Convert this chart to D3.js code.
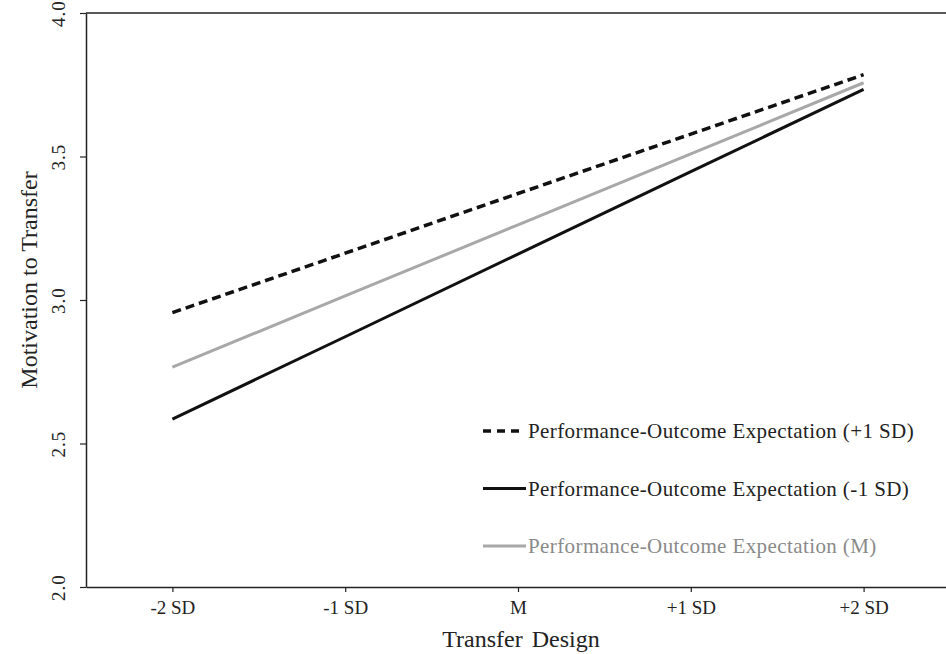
<!DOCTYPE html>
<html lang="en">
  <head>
    <meta charset="UTF-8" />
    <title>Motivation to Transfer</title>
    <script src="https://d3js.org/d3.v7.min.js"></script>
    <style>
      body { margin: 0; background: #fff; }
      svg text { font-family: "Liberation Serif", "Times New Roman", "DejaVu Serif", serif; fill: #222; }
    </style>
  </head>
  <body>
    <svg id="chart" width="946" height="654"></svg>

    <script>
      // tick labels along the x axis
      const designLevels = ["-2 SD", "-1 SD", "M", "+1 SD", "+2 SD"];
      const yTicks = [2.0, 2.5, 3.0, 3.5, 4.0];

      // predicted motivation values
      const highPOE = [2.956, 3.163, 3.371, 3.578, 3.785];
      const lowPOE = [2.585, 2.872, 3.16, 3.447, 3.734];
      const meanPOE = [2.766, 3.014, 3.262, 3.509, 3.757];

      const seriesNames = [
        "Performance-Outcome Expectation (+1 SD)",
        "Performance-Outcome Expectation (-1 SD)",
        "Performance-Outcome Expectation (M)",
      ];

      const svg = d3.select("#chart");
      const margin = { top: 13, right: -4, bottom: 67, left: 86 };
      const W = +svg.attr("width"), H = +svg.attr("height");

      const x = d3
        .scalePoint()
        .domain(designLevels)
        .range([margin.left, W - margin.right])
        .padding(0.5);

      const y = d3
        .scaleLinear()
        .domain([2, 4])
        .range([H - margin.bottom, margin.top]);

      const series = [
        { name: seriesNames[2], values: meanPOE, color: "#a8a8a8", width: 3, dash: null, text: "#8a8a8a" },
        { name: seriesNames[1], values: lowPOE, color: "#111", width: 3, dash: null, text: "#222" },
        { name: seriesNames[0], values: highPOE, color: "#111", width: 3.5, dash: "9,5", text: "#222" },
      ];

      // axes
      const xAxis = svg
        .append("g")
        .attr("transform", `translate(0,${y(2)})`)
        .call(d3.axisBottom(x).tickSize(5).tickSizeOuter(0).tickPadding(9));
      xAxis.attr("font-family", null);
      xAxis.select(".domain").attr("stroke", "#222").attr("stroke-width", 1.5);
      xAxis.selectAll(".tick line").attr("stroke", "#222").attr("stroke-width", 1.2);
      xAxis.selectAll("text").style("font-size", "19px").attr("fill", "#222");

      const yAxis = svg
        .append("g")
        .attr("transform", `translate(${margin.left},0)`)
        .call(
          d3.axisLeft(y).tickValues(yTicks).tickFormat(d3.format(".1f")).tickSize(6).tickSizeOuter(0)
        );
      yAxis.attr("font-family", null);
      yAxis.select(".domain").attr("stroke", "#222").attr("stroke-width", 1.5);
      yAxis.selectAll(".tick line").attr("stroke", "#222").attr("stroke-width", 1.2);
      yAxis
        .selectAll("text")
        .attr("x", null)
        .attr("dy", null)
        .attr("text-anchor", "middle")
        .attr("transform", "translate(-21,0) rotate(-90)")
        .style("font-size", "19px")
        .style("letter-spacing", "1px")
        .attr("fill", "#333");

      // top border
      svg
        .append("line")
        .attr("x1", margin.left)
        .attr("x2", W)
        .attr("y1", y(4))
        .attr("y2", y(4))
        .attr("stroke", "#222")
        .attr("stroke-width", 1.5);

      // axis titles
      svg
        .append("text")
        .attr("x", 521)
        .attr("y", 647)
        .attr("text-anchor", "middle")
        .style("font-size", "24px")
        .style("word-spacing", "3px")
        .text("Transfer Design");

      svg
        .append("text")
        .attr("transform", "translate(37,280) rotate(-90)")
        .attr("text-anchor", "middle")
        .style("font-size", "24px")
        .text("Motivation to Transfer");

      // lines
      const line = d3
        .line()
        .x((d, i) => x(designLevels[i]))
        .y((d) => y(d));

      series.forEach((s) => {
        svg
          .append("path")
          .datum(s.values)
          .attr("fill", "none")
          .attr("stroke", s.color)
          .attr("stroke-width", s.width)
          .attr("stroke-dasharray", s.dash)
          .attr("d", line);
      });

      // legend
      const legendRows = [series[2], series[1], series[0]];
      const legend = svg
        .selectAll(".legend-item")
        .data(legendRows)
        .enter()
        .append("g")
        .attr("class", "legend-item")
        .attr("transform", (d, i) => `translate(483,${431 + i * 57.5})`);

      legend
        .append("line")
        .attr("x1", 0)
        .attr("x2", (d) => (d.dash ? 38 : 43))
        .attr("stroke", (d) => d.color)
        .attr("stroke-width", (d) => d.width)
        .attr("stroke-dasharray", (d) => (d.dash ? "8,6" : null));

      legend
        .append("text")
        .attr("x", 45)
        .attr("y", 7)
        .style("font-size", "21px")
        .style("letter-spacing", "0.4px")
        .style("fill", (d) => d.text)
        .text((d) => d.name);
    </script>
  </body>
</html>
